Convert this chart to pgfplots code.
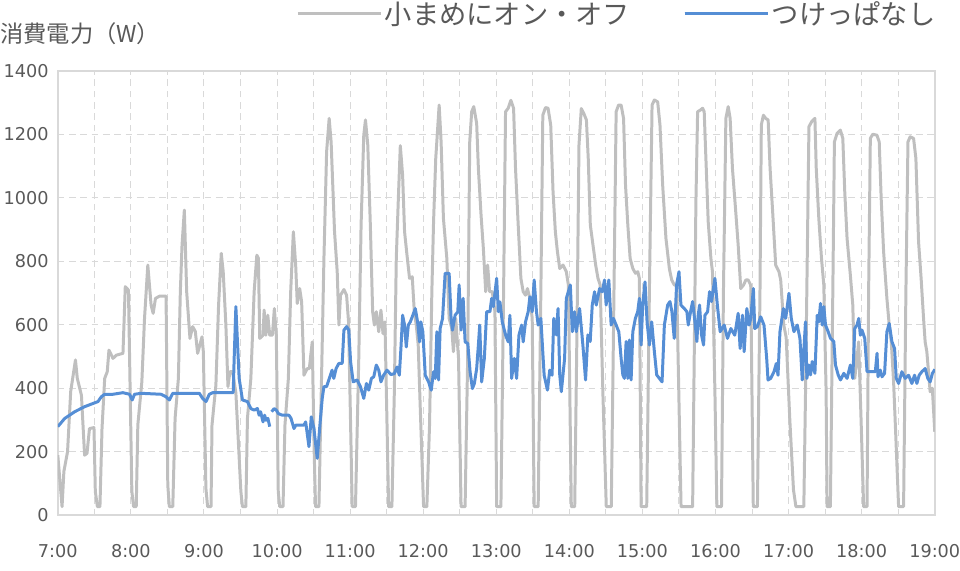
\documentclass[border=0pt]{standalone}
\usepackage{fontspec}
\setmainfont{DejaVu Sans}
\newfontfamily\jp{Noto Sans CJK JP}
\usepackage{pgfplots}
\pgfplotsset{compat=1.18}
\usetikzlibrary{calc}
\definecolor{offgray}{RGB}{191,191,191}
\definecolor{onblue}{RGB}{85,142,213}
\definecolor{txt}{RGB}{89,89,89}
\definecolor{gridc}{RGB}{217,217,217}
\begin{document}
\begin{tikzpicture}
\begin{axis}[
  scale only axis,
  width=660pt, height=334.5pt,
  xmin=0, xmax=720, ymin=0, ymax=1400,
  xtick={0,60,...,720},
  xticklabels={7:00,8:00,9:00,10:00,11:00,12:00,13:00,14:00,15:00,16:00,17:00,18:00,19:00},
  minor xtick={30,90,...,690},
  ytick={0,200,...,1400},
  yticklabels={0,200,400,600,800,1000,1200,1400},
  major tick length=0pt, minor tick length=0pt,
  xmajorgrids, xminorgrids, ymajorgrids,
  grid style={draw=gridc, line width=0.75pt, dash pattern=on 5pt off 3.5pt},
  axis line style={draw=gridc, line width=1.2pt},
  ticklabel style={font=\fontsize{13.3}{16}\selectfont, text=txt},
  xticklabel style={anchor=north, inner sep=0pt, yshift=-21.75pt},
  yticklabel style={anchor=east, inner sep=0pt, xshift=-6.75pt},
  title={消費電力（W）},
  title style={at={(axis description cs:-0.0659,1.065)}, anchor=west, inner sep=0pt,
    font=\jp\fontsize{17.5}{21}\selectfont, text=txt},
  unbounded coords=jump,
  legend columns=2,
  legend image code/.code={\draw[#1] (0pt,0pt) -- (58.5pt,0pt); \path (0pt,0pt) -- (62.5pt,0pt);},
  legend style={draw=none, fill=none, at={(axis description cs:0.2716,1.128)}, anchor=west,
    inner sep=0pt, font=\jp\fontsize{20.5}{24}\selectfont, text=txt,
    /tikz/every even column/.append style={column sep=38pt}},
]
\addplot[offgray, line width=2.25pt, line join=round] coordinates {
(0,189) (3.5,27) (5,138) (8,200) (10.6,390) (14.5,489) (16,431) (19.4,378) (22,189) (24,195)
(26,273) (29.7,276) (30.8,75) (32.5,27) (34.6,27) (36.3,273) (38.5,431) (40.6,452) (42,520)
(45.3,494) (48,504) (53.5,510) (55.4,720) (58,709) (60.8,75) (62.2,27) (64.4,27) (65.7,284)
(69,420) (71.2,620) (73.9,788) (76.6,662) (78.3,636) (80.2,683) (83.5,690) (88.9,690) (90.3,95)
(91.6,27) (94.4,27) (96.3,305) (99,431) (100.6,704) (102,851) (103.9,961) (105.8,704) (108.5,557)
(110.7,594) (112.9,579) (114.8,510) (118.4,562) (119.5,515) (121.6,84) (123,27) (125.8,27)
(126.6,284) (129.8,410) (132,662) (134.2,825) (135.8,767) (138,599) (139.7,405) (141.3,452)
(143.5,452) (146.2,386) (150.3,75) (151.6,27) (154.4,27) (155.7,305) (158.5,431) (161.2,704)
(163.4,819) (164.7,809) (165.8,557) (168.5,567) (169.4,646) (170.8,567) (172.4,630) (174,567)
(176.2,567) (177.8,651) (179.4,567) (181,75) (182.2,27) (184.9,27) (186.5,284) (189.3,431)
(191.2,704) (193.4,893) (195.3,788) (196.6,667) (198.6,714) (200.2,672) (202.1,441) (204.8,462)
(206.5,462) (208.9,546) (210.5,200) (211.6,27) (214.4,27) (216.3,389) (218.5,809) (220.7,1145)
(222.8,1250) (224.4,1176) (227.2,893) (229.4,767) (230.8,599) (232.1,693) (234.9,711) (237.1,693)
(238.7,609) (240.4,284) (241.7,27) (244.4,27) (247.1,494) (249,914) (251.2,1197) (252.6,1245)
(254.5,1166) (256.6,914) (258.5,641) (259.9,599) (261.5,641) (263.5,578) (265.3,646) (267,572)
(268.6,609) (270.3,284) (271.6,27) (274.3,27) (276.3,389) (277.9,809) (279.6,998) (281.2,1164)
(283.1,1071) (284.7,893) (286.7,819) (288.8,746) (291,751) (292.7,641) (294.3,599) (295.9,536)
(297.6,336) (300.3,27) (303,27) (305.2,284) (307.1,704) (308.5,924) (310.3,1124) (313.1,1292)
(314.7,1176) (316.6,935) (319.4,809) (321.3,620) (323.5,588) (324.8,515) (326.7,620) (329,494)
(331.1,27) (334.4,27) (336.5,494) (338.2,1176) (339.8,1271) (341.5,1287) (343.9,1234) (345.3,1092)
(347.5,945) (349.4,840) (351.3,704) (352.9,788) (354.5,704) (356.7,704) (358.9,641) (360.3,27)
(363.8,27) (366,704) (367.6,1271) (369.8,1282) (372,1307) (374.2,1282) (375.8,1092) (378,914)
(380.2,746) (382.1,704) (384,693) (385.6,714) (387.6,683) (389.5,620) (391.1,27) (394.4,27)
(396.6,704) (398.2,1260) (400.4,1284) (402.5,1282) (404.7,1229) (406.6,1019) (408.5,893)
(410.2,830) (412.1,777) (414.8,788) (417.5,767) (419.2,725) (421.6,27) (424.4,27) (426.3,599)
(427.9,1166) (429.8,1281) (431.8,1266) (434,1245) (435.5,1124) (437.2,914) (439.4,851) (441.6,788)
(443.5,746) (445.3,725) (447.5,389) (450.3,27) (454.4,27) (456.3,599) (458.4,1271) (460.4,1292)
(462.5,1292) (464.5,1250) (466.1,1040) (468,914) (469.9,809) (472.1,777) (474.3,762) (476.2,767)
(477.5,746) (478.9,27) (483.5,27) (485.7,704) (487.9,1292) (489.8,1308) (492.5,1302) (494.4,1229)
(496.6,1040) (499.3,872) (502.1,777) (504,741) (506.2,725) (508.1,725) (511.7,27) (521.2,27)
(522.5,494) (523.9,988) (525.3,1271) (527.5,1276) (529.4,1282) (530.7,1271) (532.1,1124) (534,924)
(536.2,809) (537.5,767) (539.5,389) (541.1,27) (544.9,27) (546.5,704) (548.5,1250) (550.4,1287)
(552,1250) (553.9,1092) (556.6,956) (558.6,851) (560.7,714) (563,725) (564.9,741) (566.8,741)
(568.9,725) (571,27) (574.4,27) (576.5,704) (577.6,1229) (579.3,1260) (581.2,1250) (583.2,1245)
(584.8,1092) (586.9,956) (589.4,788) (592.1,767) (593.5,741) (596,600) (598,560) (601,300)
(604,80) (606,27) (612.5,27) (613.9,389) (615.3,809) (616.7,1224) (619,1240) (621.6,1250)
(622.7,1092) (624.8,935) (627,809) (628.9,725) (630.8,389) (631.6,27) (634.3,27) (636.3,704)
(637.6,1176) (639.8,1203) (642.5,1213) (644.5,1187) (646.1,1019) (648,872) (650.7,756) (652.7,662)
(654.3,431) (656.2,494) (657.5,546) (659.5,300) (661.6,27) (664.4,27) (665.7,704) (667.1,1187)
(669.1,1200) (672.5,1197) (674.4,1176) (676,998) (678,830) (680.7,683) (682.6,599) (684.3,546)
(686.2,420) (688,250) (690.3,27) (694.4,27) (696.3,704) (698,1176) (699.8,1192) (702.6,1187)
(704.5,1124) (706.7,861) (708.8,746) (710.8,620) (712.1,546) (713.5,515) (716.2,389) (718,400)
(720,263)
};
\addlegendentry{小まめにオン・オフ}
\addplot[onblue, line width=2.25pt, line join=round] coordinates {
(0,279) (5.7,305) (13.9,326) (22.1,342) (33,358) (35.7,373) (38.5,381) (45.3,381) (53.5,386)
(58.9,381) (61.1,363) (63,381) (68.5,384) (84.8,381) (88.9,373) (91.6,363) (94.4,384) (99.8,384)
(116.2,384) (118.9,368) (121.7,358) (124.4,381) (127.1,386) (144,386) (144.8,494) (146.2,657)
(147.5,546) (148.9,431) (151.6,363) (155.7,358) (158.5,336) (161.2,331) (163.9,336) (165.3,315)
(166.5,326) (168.5,294) (169.8,315) (171,299) (172.5,305) (174,279) (174.8,nan) (175.6,326)
(177.6,336) (179.4,331) (181.1,320) (184.4,315) (189.8,315) (191.5,305) (193.9,273) (195.5,284)
(202.1,284) (203.5,294) (206.2,216) (208.1,310) (210.3,273) (213,179) (215.2,284) (217.1,368)
(218.5,405) (220.7,405) (222.5,426) (225.2,457) (226.6,431) (228.5,462) (230.7,478) (233.5,478)
(234.9,583) (237.1,594) (238.9,583) (240.4,483) (242.5,420) (245.7,426) (248.5,405) (251.2,368)
(253.4,415) (255.3,394) (257.5,431) (259.4,436) (261.5,473) (263.5,457) (265.3,420) (267.5,441)
(270.3,457) (273.5,443) (276.3,446) (278.5,467) (280.4,441) (281.7,525) (283.1,630) (284.7,599)
(286.1,530) (287.8,599) (289.4,609) (291.5,630) (293.5,651) (295.4,609) (297,546) (298.1,609)
(299.7,578) (301.7,441) (304.4,420) (306.6,394) (308.5,452) (309.9,431) (311.2,578) (312.6,426)
(313.9,588) (315.9,620) (318,762) (321.3,762) (322.9,620) (324,583) (326.2,630) (328.4,641)
(329.5,725) (331.1,583) (332.8,683) (334.4,546) (336.6,541) (338.5,452) (340.4,399) (342,415)
(343.9,462) (345.3,536) (346.4,599) (348,420) (350.2,494) (352.1,641) (354.8,641) (356.2,683)
(357.6,657) (360.3,746) (361.7,641) (363,672) (364.9,609) (367.7,567) (369.8,546) (371.2,630)
(372.6,431) (374.8,494) (376.7,431) (378.6,567) (380.8,599) (382.1,546) (384,609) (386.2,641)
(387.6,688) (389.5,641) (391.1,741) (393,641) (394.4,599) (396.6,620) (397.7,546) (399.3,441)
(402,394) (403.9,457) (405.8,441) (407.2,620) (409.3,568) (410.7,651) (412.1,442) (413.4,389)
(416.1,494) (417.5,683) (420.8,725) (422.4,578) (424.3,641) (425.7,578) (428.4,651) (431.1,536)
(433.3,426) (435.2,568) (437.1,547) (438.8,662) (440.7,704) (442.1,662) (444.8,714) (447,704)
(448.9,741) (450.2,662) (452.4,741) (454.3,599) (456.2,620) (458.4,599) (460.6,578) (462.5,494)
(463.9,442) (465.2,431) (466.6,547) (468,431) (469.3,552) (470.7,426) (472.1,578) (474.2,620)
(476.1,641) (477.5,683) (478.9,536) (480.2,662) (482.1,735) (483.8,609) (485.7,536) (487.6,609)
(489.8,515) (491.7,442) (493.9,431) (496.1,420) (498,599) (500.7,662) (502.6,673) (504.2,641)
(506.1,557) (508,725) (510,767) (511.6,662) (514.4,651) (516.5,641) (517.6,599) (519.5,641)
(521.2,673) (523.1,609) (524.7,547) (525.8,630) (526.9,662) (528.5,568) (530.2,536) (531.3,630)
(533.5,641) (535.1,704) (536.7,673) (539.5,746) (541.5,662) (543.8,578) (547.1,599) (549.8,557)
(552.6,588) (555.8,567) (558.6,636) (560.2,525) (562.1,630) (563.5,515) (565.7,651) (567.6,599)
(568.9,620) (571.1,714) (572.2,588) (574.4,594) (577.1,625) (579.8,599) (582,494) (583.1,426)
(585.3,431) (588,452) (589.9,478) (591.3,441) (592.9,578) (595.7,651) (597.6,620) (600.3,699)
(602.2,620) (604.4,578) (607.1,599) (609.3,557) (611.2,426) (612.5,520) (613.9,609) (615,431)
(616.7,473) (618,442) (619.4,484) (621.6,447) (623.5,630) (624.8,609) (626.2,667) (627.6,599)
(628.9,657) (630.3,599) (632.5,578) (634.4,557) (637.1,547) (638.5,473) (640.7,442) (642.6,426)
(645.3,447) (648,431) (650.7,473) (652.7,431) (654.3,588) (656.2,599) (657.6,620) (658.9,567)
(660.3,583) (662.5,557) (664.4,452) (668.5,452) (671.2,452) (672.6,510) (673.4,436) (675.3,457)
(676.7,436) (678.8,447) (680.7,578) (682.6,604) (684.8,547) (687,525) (688.4,431) (690.3,415)
(693,452) (695.7,431) (698.5,441) (701.2,415) (703.4,441) (705.3,415) (707.2,441) (709.4,452)
(712.1,462) (714.3,431) (716.2,420) (718.1,447) (719.7,457) (720,460)
};
\addlegendentry{つけっぱなし}
\coordinate (SW) at (rel axis cs:0,0);
\coordinate (NE) at (rel axis cs:1,1);
\end{axis}
\pgfresetboundingbox
\path[use as bounding box] ($(SW)+(-43.5pt,-41.25pt)$) rectangle ($(NE)+(19pt,53.25pt)$);
\end{tikzpicture}
\end{document}
